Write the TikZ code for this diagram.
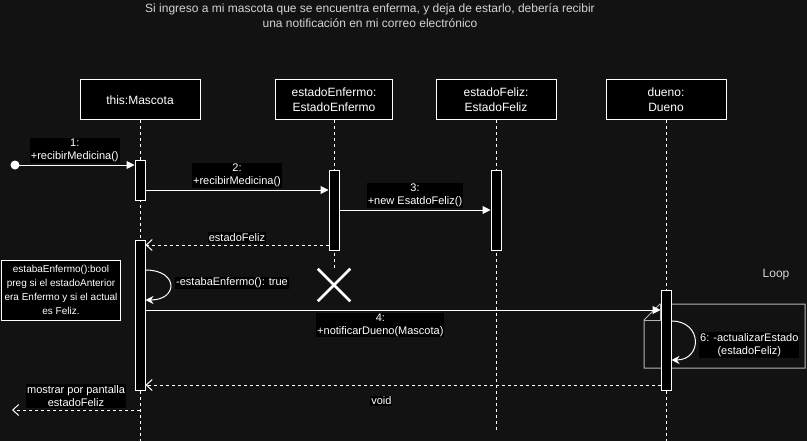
\documentclass[tikz,border=0pt]{standalone}
\usepackage{fontspec}
\setmainfont{Liberation Sans}
\usetikzlibrary{%
    arrows.meta,%
    shapes.misc%
}
\definecolor{bgdark}{HTML}{121212}
\definecolor{framegray}{HTML}{B4B4B4}
\definecolor{titlegray}{HTML}{D4D4D4}

\begin{document}
\begin{tikzpicture}[
    x=1pt,y=-1pt,
    head/.style={draw=white,fill=black,text=white,line width=1pt,
        minimum width=120pt,minimum height=40pt,align=center,
        font=\fontsize{12}{15}\selectfont},
    act/.style={draw=white,fill=black,line width=1pt,
        minimum width=10pt,inner sep=0pt,anchor=north},
    lifeline/.style={white,line width=1pt,dash pattern=on 3pt off 3pt},
    call/.style={white,line width=1pt,-{Triangle[length=8pt,width=8pt]}},
    reply/.style={white,line width=1pt,dash pattern=on 3pt off 3pt,
        -{Straight Barb[length=6pt,width=11pt]}},
    selfcall/.style={white,line width=1pt,-{Stealth[length=8pt,width=8pt]}},
    msg/.style={fill=black,text=white,inner sep=1pt,align=center,
        font=\fontsize{11}{13}\selectfont},
    ]

    % Background
    \fill[bgdark] (0,0) rectangle (807,441);

    % Title
    \node[text=titlegray,align=center,font=\fontsize{12}{15}\selectfont]
        (title) at (370,16) {Si ingreso a mi mascota que se encuentra enferma, y deja de estarlo, debería recibir\\una notificación en mi correo electrónico};

    % Heads
    \node[head] (mascota) at (140,100) {this:Mascota};
    \node[head,minimum width=117pt] (enfermo) at (334,100) {estadoEnfermo:\\EstadoEnfermo};
    \node[head] (feliz) at (496,100) {estadoFeliz:\\EstadoFeliz};
    \node[head] (dueno) at (666,100) {dueno:\\Dueno};

    % Destruction of estadoEnfermo
    \node[draw=white,cross out,line width=2.5pt,minimum size=30pt,inner sep=0pt]
        (kill) at (334,285) {};

    % Lifelines
    \draw[lifeline] (mascota.south) -- (mascota.south |- 0,441);
    \draw[lifeline] (enfermo.south) -- (kill.north);
    \draw[lifeline] (feliz.south) -- (feliz.south |- 0,430);
    \draw[lifeline] (dueno.south) -- (dueno.south |- 0,441);

    % Loop frame
    \draw[framegray,line width=1pt] (644,320) -- (660,304) -- (805,304)
        -- (805,368) -- (644,368) -- cycle;
    \draw[framegray,line width=1pt] (644,320) -- (660,320) -- (660,304);
    \node[text=titlegray,font=\fontsize{12}{15}\selectfont] (loop) at (776,275) {Loop};

    % Activations
    \node[act,minimum height=40pt] (m1) at (mascota.south |- 0,160) {};
    \node[act,minimum height=150pt] (m2) at (mascota.south |- 0,240) {};
    \node[act,minimum height=80pt] (e1) at (enfermo.south |- 0,170) {};
    \node[act,minimum height=80pt] (f1) at (feliz.south |- 0,170) {};
    \node[act,minimum height=100pt] (d1) at (dueno.south |- 0,290) {};

    % Note
    \node[draw=white,fill=black,text=white,line width=1pt,minimum width=119pt,
        minimum height=60pt,align=center,font=\fontsize{10}{14}\selectfont]
        (note) at (61,290) {estabaEnfermo():bool\\preg si el estadoAnterior\\era Enfermo y si el actual\\es Feliz.};

    % Messages
    \node[circle,fill=white,minimum size=9pt,inner sep=0pt] (start) at (15,165) {};
    \draw[call] (start.center) -- node[msg,above=2pt] {1:\\+recibirMedicina()} (start -| m1.west);
    \draw[call] (m1.east |- 0,190) -- node[msg,above=2pt] {2:\\+recibirMedicina()} (e1.west |- 0,190);
    \draw[call] (e1.east |- 0,210) -- node[msg,above=2pt] {3:\\+new EsatdoFeliz()} (f1.west |- 0,210);
    \draw[reply] (e1.west |- 0,245) -- node[msg,above=2pt] {estadoFeliz} (m2.east |- 0,245);

    % Self call on Mascota
    \draw[selfcall] (m2.east |- 0,270) .. controls +(33,0) and +(33,0) .. (m2.east |- 0,300);
    \node[msg,anchor=west] (selflbl) at (175,283) {-estabaEnfermo(): true};

    % Notify owner
    \draw[call] (m2.east |- 0,310) -- node[msg,below=2pt,pos=0.456] {4:\\+notificarDueno(Mascota)} (d1.west |- 0,310);

    % Self call on Dueno
    \draw[selfcall] (d1.east |- 0,321) .. controls +(31,0) and +(31,0) .. (d1.east |- 0,360);
    \node[msg,anchor=west] (updlbl) at (699,345) {6: -actualizarEstado\\(estadoFeliz)};

    % Returns
    \draw[reply] (d1.west |- 0,385) -- node[msg,below=10pt,pos=0.542] {void} (m2.east |- 0,385);
    \coordinate (screen) at (12,410);
    \draw[reply] (mascota.south |- screen) -- node[msg,above=2pt] {mostrar por pantalla\\estadoFeliz} (screen);
\end{tikzpicture}
\end{document}
